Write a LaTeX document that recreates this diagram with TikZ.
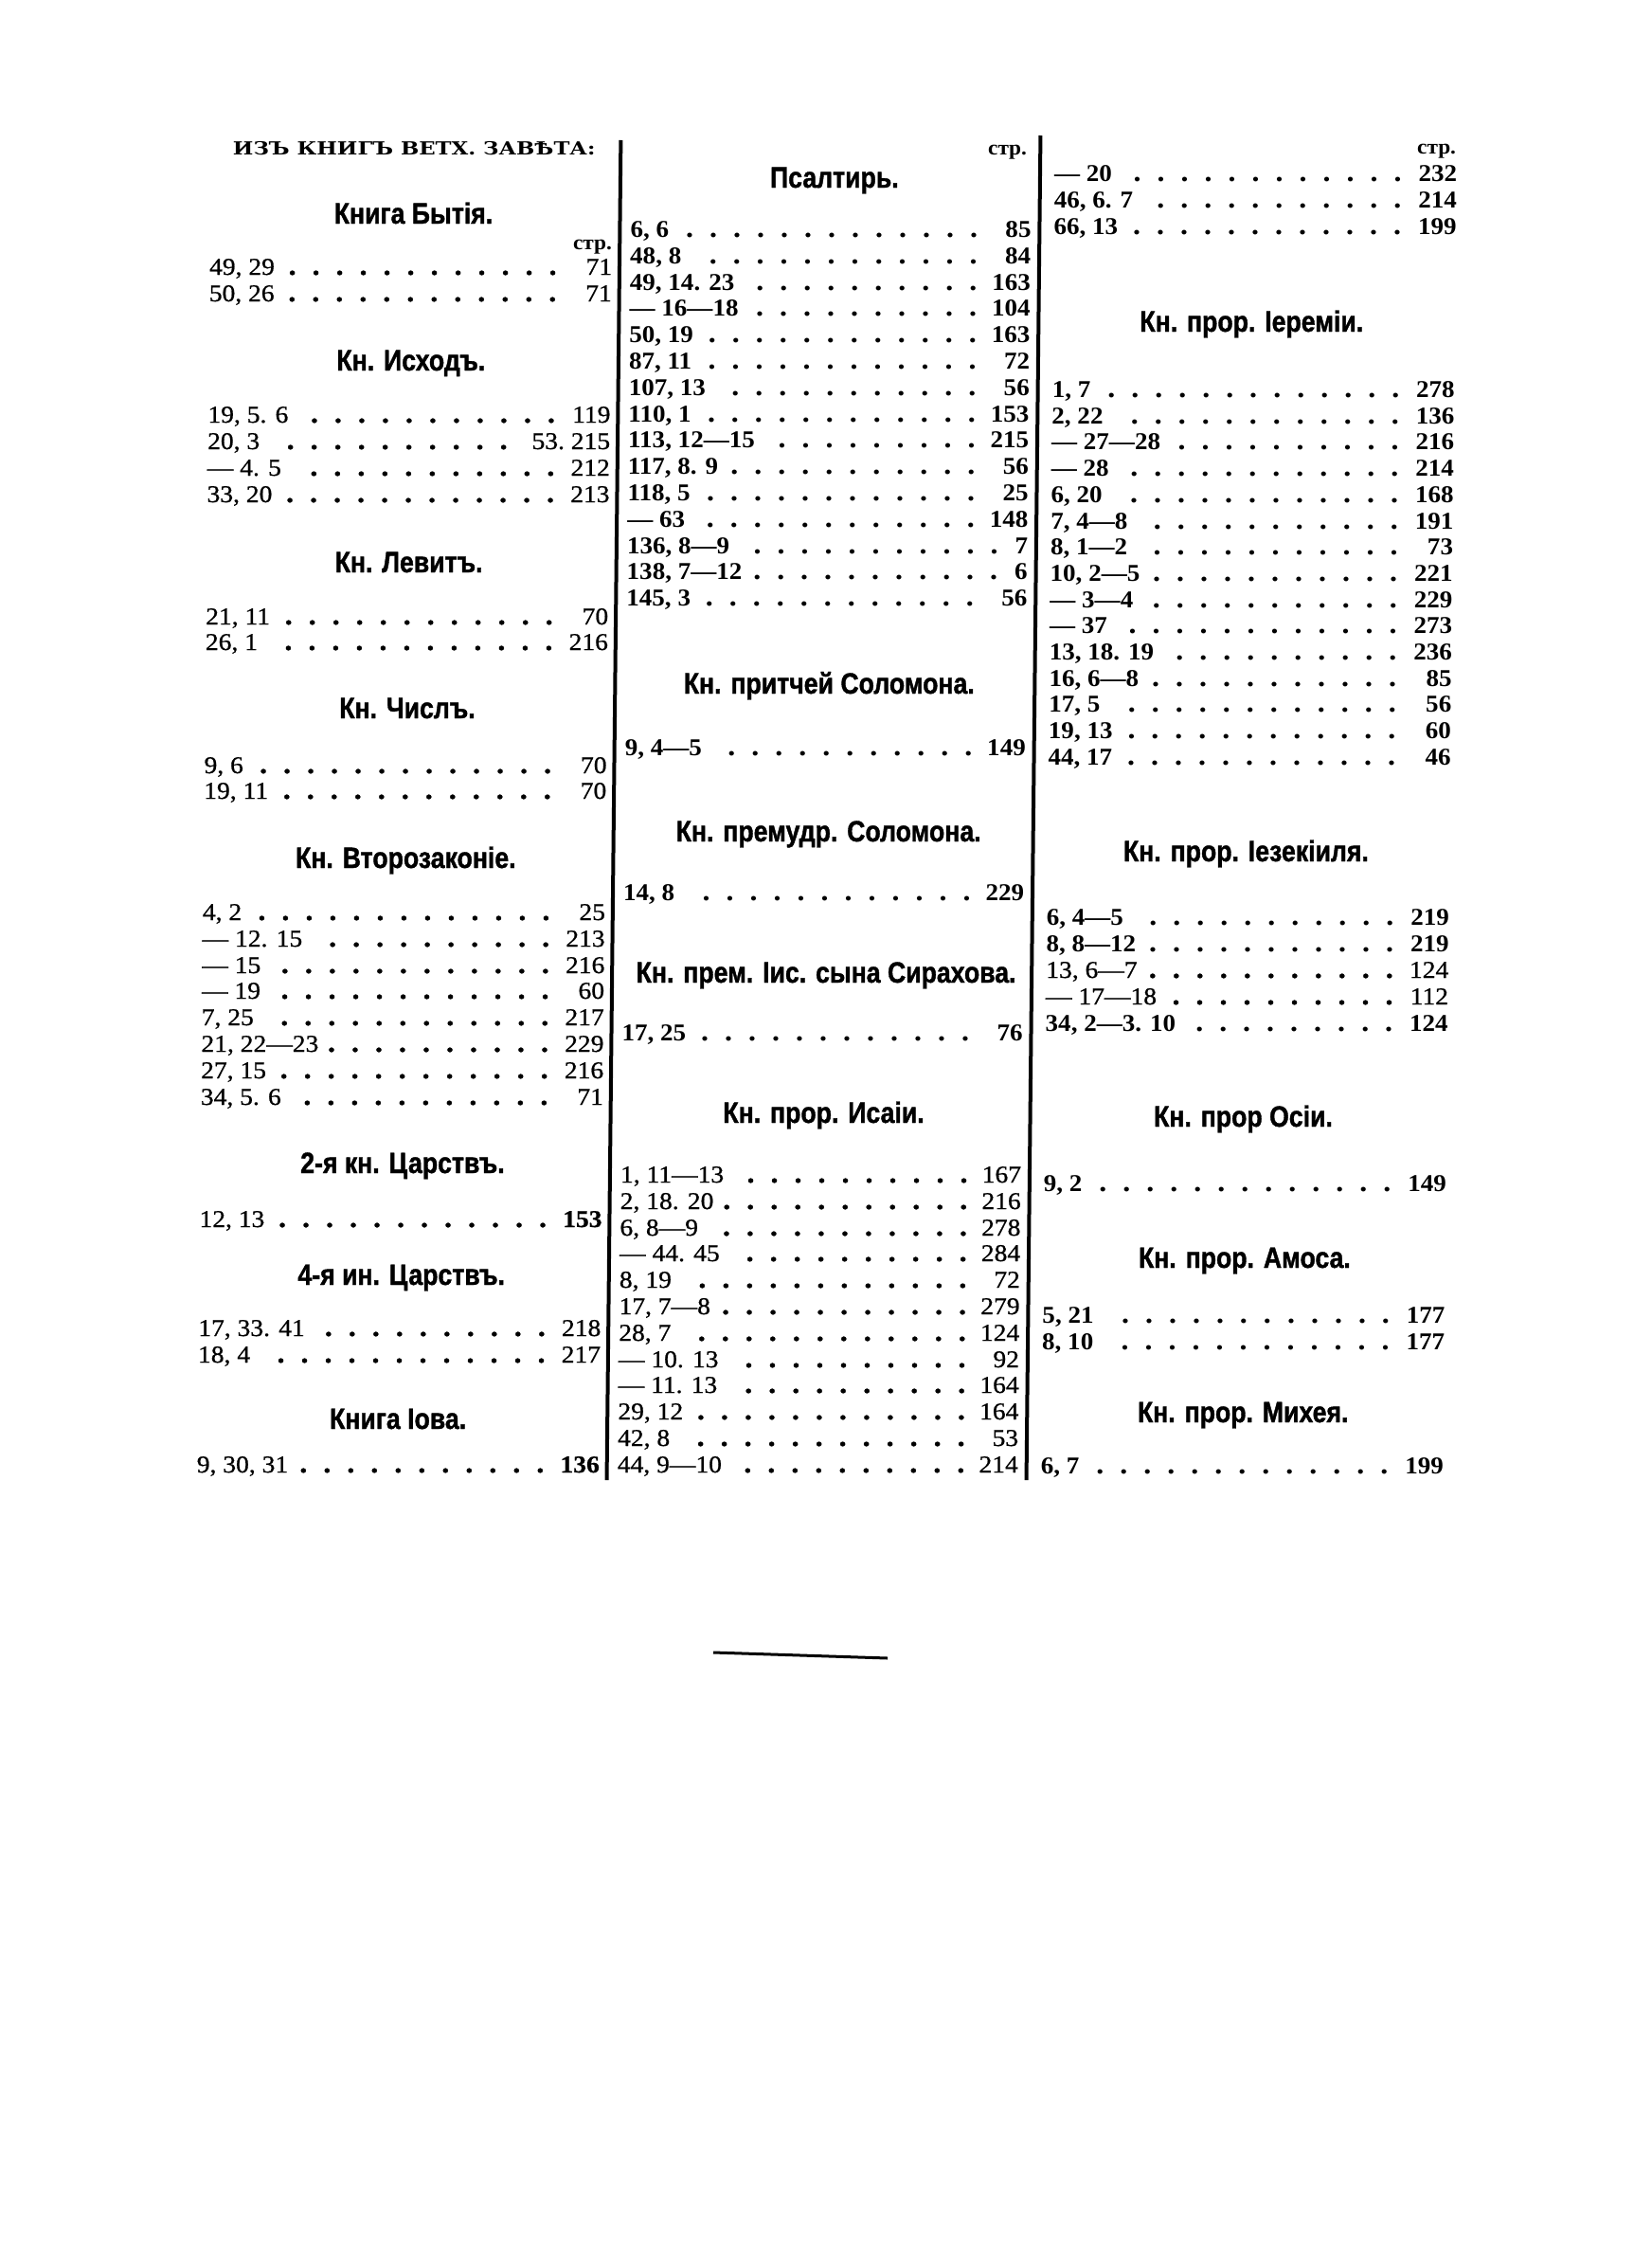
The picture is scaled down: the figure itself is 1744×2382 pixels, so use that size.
\documentclass[tikz,border=0pt]{standalone}
\usepackage{fontspec}
\setmainfont{Liberation Serif}
\newfontfamily\hf[FakeStretch=0.86,FakeBold=1.2]{Liberation Sans}
\newfontfamily\capf[FakeStretch=1.2]{DejaVu Serif}
\newfontfamily\numf[FakeStretch=1.08,FakeBold=0.7]{Liberation Serif}
\newfontfamily\numbf[FakeStretch=1.06]{Liberation Serif}
\newcommand\dotlead{\leaders\hbox to 25pt{\hss\fontsize{30}{30}\selectfont\bfseries.\hss}\hfill}
\tikzset{
  entry/.style={anchor=base west, inner sep=0pt, font=\numf\fontsize{25.5}{28}\selectfont},
  entryb/.style={entry, font=\numbf\bfseries\fontsize{25.5}{28}\selectfont},
  head/.style={anchor=base, inner sep=0pt, font=\hf\bfseries\fontsize{31}{34}\selectfont},
  stp/.style={anchor=base east, inner sep=0pt, font=\numbf\bfseries\fontsize{22}{24}\selectfont},
  hdr/.style={anchor=base, inner sep=0pt, font=\capf\bfseries\fontsize{19}{21}\selectfont},
  colrule/.style={line width=4pt, line cap=butt, black}
}
% name, x, baseline y, width, label, number
\newcommand\ent[6]{\node[entry] (#1) at (#2,#3) {\hbox to #4pt{#5\dotlead #6}};}
\newcommand\entb[6]{\node[entryb] (#1) at (#2,#3) {\hbox to #4pt{#5\dotlead #6}};}
\begin{document}
\begin{tikzpicture}[x=1pt,y=-1pt]
\fill[white] (0,0) rectangle (1744,2382);
\useasboundingbox (0,0) rectangle (1744,2382);
% short rule at the foot of the page
\coordinate (r3a) at (753,1744); \coordinate (r3b) at (937,1750);
\draw[colrule, line width=3pt] (r3a) -- (r3b);

\begin{scope}[xshift=2.94pt, xslant=0.0105]
% column rules
\coordinate (r1a) at (654,148); \coordinate (r1b) at (654,1562);
\coordinate (r2a) at (1097,143); \coordinate (r2b) at (1097,1562);
\draw[colrule] (r1a) -- (r1b);
\draw[colrule] (r2a) -- (r2b);

% ===== column 1 =====
\node[hdr] (hdr) at (436,163) {ИЗЪ КНИГЪ ВЕТХ. ЗАВѢТА:};
\node[head] (h11) at (436,236) {Книга Бытія.};
\node[stp] (s1) at (646,263) {стр.};
\ent{a1}{221}{290}{425}{49, 29}{71}
\ent{a2}{221}{318}{425}{50, 26}{71}
\node[head] (h12) at (435,391) {Кн. Исходъ.};
\ent{a3}{221}{446}{425}{19, 5. 6}{119}
\ent{a4}{221}{474}{425}{20, 3}{53.\ 215}
\ent{a5}{221}{502}{425}{— 4. 5}{212}
\ent{a6}{221}{530}{425}{33, 20}{213}
\node[head] (h13) at (435,604) {Кн. Левитъ.};
\ent{a7}{221}{659}{425}{21, 11}{70}
\ent{a8}{221}{686}{425}{26, 1}{216}
\node[head] (h14) at (435,758) {Кн. Числъ.};
\ent{a9}{221}{816}{425}{9, 6}{70}
\ent{a10}{221}{843}{425}{19, 11}{70}
\node[head] (h15) at (435,916) {Кн. Второзаконіе.};
\ent{a11}{221}{971}{425}{4, 2}{25}
\ent{a12}{221}{999}{425}{— 12. 15}{213}
\ent{a13}{221}{1027}{425}{— 15}{216}
\ent{a14}{221}{1054}{425}{— 19}{60}
\ent{a15}{221}{1082}{425}{7, 25}{217}
\ent{a16}{221}{1110}{425}{21, 22—23}{229}
\ent{a17}{221}{1138}{425}{27, 15}{216}
\ent{a18}{221}{1166}{425}{34, 5. 6}{71}
\node[head] (h16) at (435,1238) {2-я кн. Царствъ.};
\ent{a19}{221}{1295}{425}{12, 13}{\textbf{153}}
\node[head] (h17) at (435,1356) {4-я ин. Царствъ.};
\ent{a20}{221}{1410}{425}{17, 33. 41}{218}
\ent{a21}{221}{1438}{425}{18, 4}{217}
\node[head] (h18) at (433,1508) {Книга Іова.};
\ent{a22}{221}{1554}{425}{9, 30, 31}{\textbf{136}}

% ===== column 2 =====
\node[stp] (s2) at (1083,163) {стр.};
\node[head] (h21) at (880,198) {Псалтирь.};
\entb{b1}{665}{250}{423}{6, 6}{85}
\entb{b2}{665}{278}{423}{48, 8}{84}
\entb{b3}{665}{306}{423}{49, 14. 23}{163}
\entb{b4}{665}{333}{423}{— 16—18}{104}
\entb{b5}{665}{361}{423}{50, 19}{163}
\entb{b6}{665}{389}{423}{87, 11}{72}
\entb{b7}{665}{417}{423}{107, 13}{56}
\entb{b8}{665}{445}{423}{110, 1}{153}
\entb{b9}{665}{472}{423}{113, 12—15}{215}
\entb{b10}{665}{500}{423}{117, 8. 9}{56}
\entb{b11}{665}{528}{423}{118, 5}{25}
\entb{b12}{665}{556}{423}{— 63}{148}
\entb{b13}{665}{584}{423}{136, 8—9}{7}
\entb{b14}{665}{611}{423}{138, 7—12}{6}
\entb{b15}{665}{639}{423}{145, 3}{56}
\node[head] (h22) at (880,732) {Кн. притчей Соломона.};
\entb{b16}{665}{797}{423}{9, 4—5}{149}
\node[head] (h23) at (881,888) {Кн. премудр. Соломона.};
\entb{b17}{665}{950}{423}{14, 8}{229}
\node[head] (h24) at (880,1037) {Кн. прем. Іис. сына Сирахова.};
\entb{b18}{665}{1098}{423}{17, 25}{76}
\node[head] (h25) at (879,1185) {Кн. прор. Исаіи.};
\ent{b19}{665}{1248}{423}{1, 11—13}{167}
\ent{b20}{665}{1276}{423}{2, 18. 20}{216}
\ent{b21}{665}{1304}{423}{6, 8—9}{278}
\ent{b22}{665}{1331}{423}{— 44. 45}{284}
\ent{b23}{665}{1359}{423}{8, 19}{72}
\ent{b24}{665}{1387}{423}{17, 7—8}{279}
\ent{b25}{665}{1415}{423}{28, 7}{124}
\ent{b26}{665}{1443}{423}{— 10. 13}{92}
\ent{b27}{665}{1470}{423}{— 11. 13}{164}
\ent{b28}{665}{1498}{423}{29, 12}{164}
\ent{b29}{665}{1526}{423}{42, 8}{53}
\ent{b30}{665}{1554}{423}{44, 9—10}{214}

% ===== column 3 =====
\node[stp] (s3) at (1536,162) {стр.};
\entb{c1}{1112}{191}{425}{— 20}{232}
\entb{c2}{1112}{219}{425}{46, 6. 7}{214}
\entb{c3}{1112}{247}{425}{66, 13}{199}
\node[head] (h31) at (1322,350) {Кн. прор. Іереміи.};
\entb{c4}{1112}{419}{425}{1, 7}{278}
\entb{c5}{1112}{447}{425}{2, 22}{136}
\entb{c6}{1112}{474}{425}{— 27—28}{216}
\entb{c7}{1112}{502}{425}{— 28}{214}
\entb{c8}{1112}{530}{425}{6, 20}{168}
\entb{c9}{1112}{558}{425}{7, 4—8}{191}
\entb{c10}{1112}{585}{425}{8, 1—2}{73}
\entb{c11}{1112}{613}{425}{10, 2—5}{221}
\entb{c12}{1112}{641}{425}{— 3—4}{229}
\entb{c13}{1112}{668}{425}{— 37}{273}
\entb{c14}{1112}{696}{425}{13, 18. 19}{236}
\entb{c15}{1112}{724}{425}{16, 6—8}{85}
\entb{c16}{1112}{751}{425}{17, 5}{56}
\entb{c17}{1112}{779}{425}{19, 13}{60}
\entb{c18}{1112}{807}{425}{44, 17}{46}
\node[head] (h32) at (1322,909) {Кн. прор. Іезекіиля.};
\entb{c19}{1112}{976}{425}{6, 4—5}{219}
\entb{c20}{1112}{1004}{425}{8, 8—12}{219}
\ent{c21}{1112}{1032}{425}{13, 6—7}{124}
\ent{c22}{1112}{1060}{425}{— 17—18}{112}
\entb{c23}{1112}{1088}{425}{34, 2—3. 10}{124}
\node[head] (h33) at (1322,1189) {Кн. прор Осіи.};
\entb{c24}{1112}{1257}{425}{9, 2}{149}
\node[head] (h34) at (1325,1338) {Кн. прор. Амоса.};
\entb{c25}{1112}{1396}{425}{5, 21}{177}
\entb{c26}{1112}{1424}{425}{8, 10}{177}
\node[head] (h35) at (1325,1501) {Кн. прор. Михея.};
\entb{c27}{1112}{1555}{425}{6, 7}{199}
\end{scope}
\end{tikzpicture}
\end{document}
